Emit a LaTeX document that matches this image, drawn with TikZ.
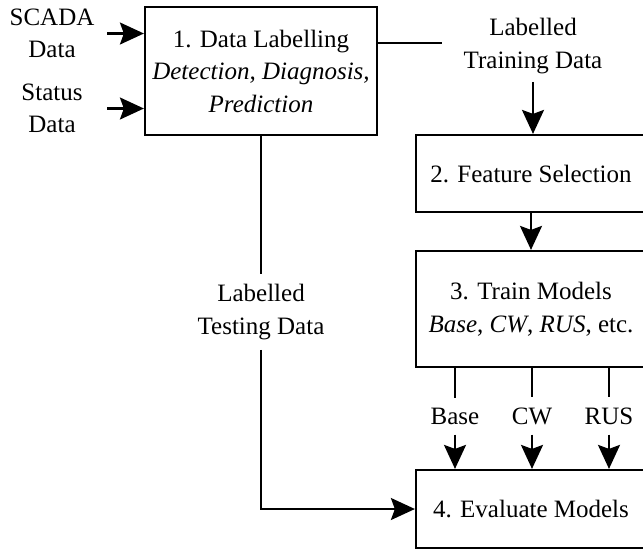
\documentclass[tikz,border=0pt]{standalone}
\usepackage{fontspec}
\setmainfont{LiberationSerif-Regular.ttf}[BoldFont=LiberationSerif-Bold.ttf,ItalicFont=LiberationSerif-Italic.ttf,BoldItalicFont=LiberationSerif-BoldItalic.ttf]
\usetikzlibrary{arrows.meta}
\begin{document}
\begin{tikzpicture}[x=1pt,y=-1pt,
  every node/.style={font=\rmfamily\fontsize{25}{32.5}\selectfont},
  box/.style={draw,line width=2.2pt,align=center,inner sep=0pt},
  lbl/.style={align=center,inner xsep=2pt,inner ysep=8pt},
  conn/.style={line width=2.2pt},
  arr/.style={line width=2.2pt,-{Stealth[length=24pt,width=22pt,inset=4pt]}}]
\useasboundingbox (0,0) rectangle (643,550);
\clip (0,0) rectangle (643,550);
% boxes
\node[box,minimum width=232pt,minimum height=128pt] (b1) at (261,71)
  {1. Data Labelling\\ \textit{Detection, Diagnosis,}\\ \textit{Prediction}};
\node[box,minimum width=230pt,minimum height=77pt] (b2) at (531,173.5)
  {2. Feature Selection};
\node[box,minimum width=230pt,minimum height=116pt] (b3) at (531,309)
  {3. Train Models\\ \textit{Base}, \textit{CW}, \textit{RUS}, etc.};
\node[box,minimum width=230pt,minimum height=78pt] (b4) at (531,509)
  {4. Evaluate Models};
% labels
\node[lbl] (scada) at (52,33.5) {SCADA\\Data};
\node[lbl] (status) at (52,108.5) {Status\\Data};
\node[lbl] (train) at (533,46) {Labelled\\Training Data};
\node[lbl,inner ysep=10pt] (test) at (261,312) {Labelled\\Testing Data};
\node[lbl,inner ysep=10pt] (base) at (455,416) {Base};
\node[lbl,inner ysep=10pt] (cw) at (532,416) {CW};
\node[lbl,inner ysep=10pt] (rus) at (609,416) {RUS};
% helper coordinates
\coordinate (inL) at (107,0);
\coordinate (trainend) at (442,43);
% connectors
\draw[arr] (inL |- scada) -- (b1.west |- scada);
\draw[arr] (inL |- status) -- (b1.west |- status);
\draw[conn] (b1.east |- trainend) -- (trainend);
\draw[arr] (train.south) -- (b2.north -| train.south);
\draw[arr] (b2.south) -- (b3.north -| b2.south);
\draw[conn] (b1.south) -- (test.north);
\draw[arr] (test.south) |- (b4.west);
\draw[conn] (b3.south -| base) -- (base.north);
\draw[conn] (b3.south -| cw) -- (cw.north);
\draw[conn] (b3.south -| rus) -- (rus.north);
\draw[arr] (base.south) -- (b4.north -| base);
\draw[arr] (cw.south) -- (b4.north -| cw);
\draw[arr] (rus.south) -- (b4.north -| rus);
\end{tikzpicture}
\end{document}
